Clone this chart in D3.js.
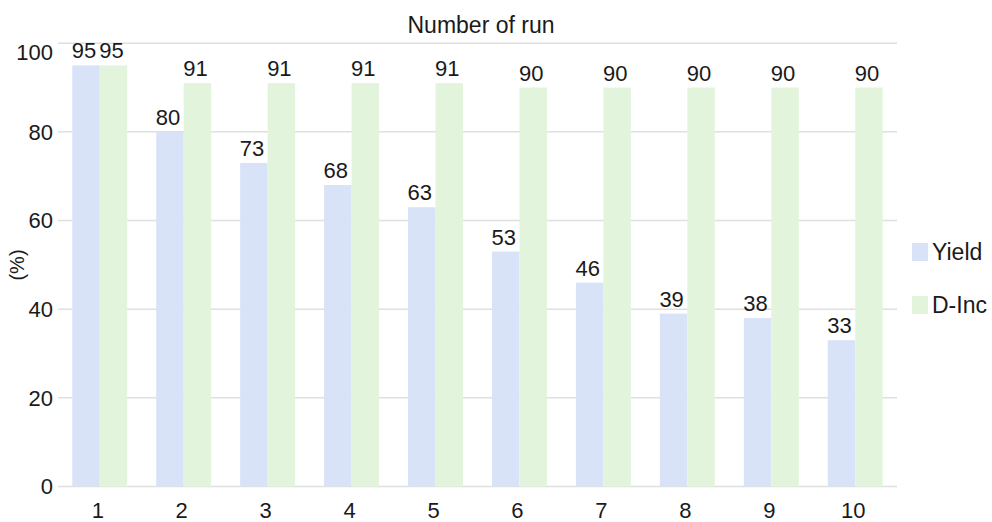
<!DOCTYPE html>
<html>
<head>
<meta charset="utf-8">
<script src="https://cdn.jsdelivr.net/npm/d3@7"></script>
<style>
  html, body { margin: 0; padding: 0; background: #fff; }
  svg text { font-family: "Liberation Sans", Arial, sans-serif; fill: #1a1a1a; }
</style>
</head>
<body>
<svg id="chart" width="992" height="522"></svg>
<script>
// Run number on the x axis, two series per run
const runs = ["1", "2", "3", "4", "5", "6", "7", "8", "9", "10"];
const seriesNames = ["Yield", "D-Inc"];
const yieldValues = [95, 80, 73, 68, 63, 53, 46, 39, 38, 33];
const dIncValues = [95, 91, 91, 91, 91, 90, 90, 90, 90, 90];
const yTicks = [0, 20, 40, 60, 80, 100];
const colors = ["#d9e3f8", "#e2f5dc"];

const svg = d3.select("#chart");
const margin = { left: 58, right: 95, top: 43, bottom: 36 };

const x = d3.scaleBand()
  .domain(runs)
  .range([margin.left, 897])
  .paddingInner(0.345)
  .paddingOuter(0.17);

const xInner = d3.scaleBand()
  .domain(seriesNames)
  .range([0, x.bandwidth()]);

const y = d3.scaleLinear()
  .domain([0, 100])
  .range([486.5, 43.2]);

// gridlines
svg.append("g")
  .selectAll("line")
  .data(yTicks)
  .join("line")
  .attr("x1", margin.left)
  .attr("x2", 897)
  .attr("y1", d => y(d))
  .attr("y2", d => y(d))
  .attr("stroke", "#e0e0e0")
  .attr("stroke-width", 1.5);

// y tick labels
svg.append("g")
  .selectAll("text")
  .data(yTicks)
  .join("text")
  .attr("x", 53)
  .attr("y", d => y(d) + (d === 100 ? 9 : 0))
  .attr("dy", "0.35em")
  .attr("text-anchor", "end")
  .attr("font-size", 22)
  .text(d => d);

// x tick labels
svg.append("g")
  .selectAll("text")
  .data(runs)
  .join("text")
  .attr("x", d => x(d) + x.bandwidth() / 2 - 2)
  .attr("y", 518)
  .attr("text-anchor", "middle")
  .attr("font-size", 22)
  .text(d => d);

const rows = runs.map((r, i) => ({ run: r, values: [
  { key: "Yield", value: yieldValues[i], color: colors[0] },
  { key: "D-Inc", value: dIncValues[i], color: colors[1] }
]}));

const groups = svg.append("g")
  .selectAll("g")
  .data(rows)
  .join("g")
  .attr("transform", d => `translate(${x(d.run)},0)`);

groups.selectAll("rect")
  .data(d => d.values)
  .join("rect")
  .attr("x", d => xInner(d.key))
  .attr("width", xInner.bandwidth())
  .attr("y", d => y(d.value))
  .attr("height", d => y(0) - y(d.value))
  .attr("fill", d => d.color);

groups.selectAll("text")
  .data(d => d.values)
  .join("text")
  .attr("x", d => xInner(d.key) + xInner.bandwidth() / 2 - 2)
  .attr("y", d => y(d.value) - 7)
  .attr("text-anchor", "middle")
  .attr("font-size", 22)
  .text(d => d.value);

// title
svg.append("text")
  .attr("x", 481)
  .attr("y", 33)
  .attr("text-anchor", "middle")
  .attr("font-size", 23)
  .text("Number of run");

// y axis title
svg.append("text")
  .attr("transform", "translate(24,265) rotate(-90)")
  .attr("text-anchor", "middle")
  .attr("font-size", 20)
  .text("(%)");

// legend
const legend = svg.append("g")
  .selectAll("g")
  .data(seriesNames)
  .join("g")
  .attr("transform", (d, i) => `translate(912,${252 + i * 53})`);

legend.append("rect")
  .attr("x", 0)
  .attr("y", -9)
  .attr("width", 16)
  .attr("height", 18)
  .attr("fill", (d, i) => colors[i]);

legend.append("text")
  .attr("x", 20)
  .attr("dy", "0.35em")
  .attr("font-size", 23)
  .text(d => d);
</script>
</body>
</html>
